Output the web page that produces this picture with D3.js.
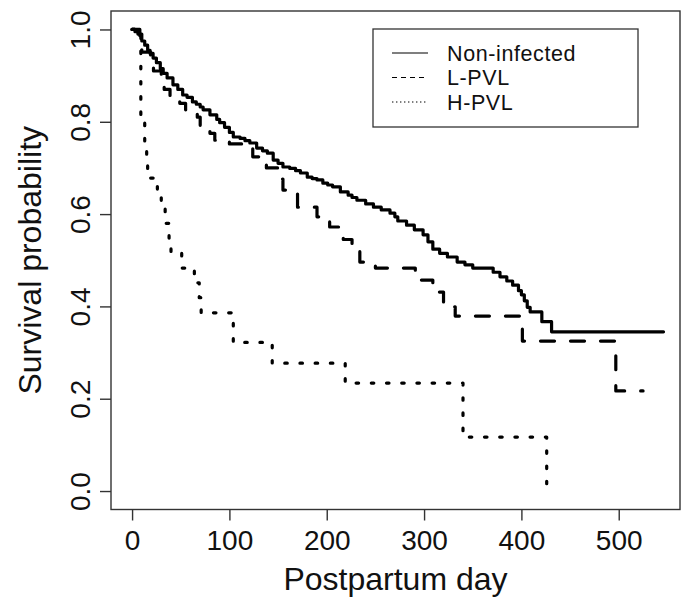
<!DOCTYPE html>
<html><head><meta charset="utf-8">
<script src="https://cdn.jsdelivr.net/npm/d3@7"></script>
<style>body{margin:0;background:#fff;} svg{display:block;font-family:Arial,"Liberation Sans",sans-serif;}</style>
</head><body><svg id="c" width="686" height="601"></svg>
<script>
// Kaplan-Meier step data (day of step, survival after step)
const nonInfectedDays = [0,3,6,10,13,16,18.5,21.6,25,29,32,36,42,47,52,56.5,62,66,70,73,80,87,90,95,100,104,111,116,121,128,134,139,145,150,155,162,168,173,180,185,190,196,201,206,214,222,226,231,240,248,256,265,270,273,282,290,299,304,309,316,324,334,342,350,371,378,385,391,397,400,403,406,409,421,431,546];
const nonInfectedSurv = [1.0,0.995,0.99,0.975,0.966,0.955,0.948,0.938,0.928,0.915,0.905,0.895,0.880,0.870,0.858,0.853,0.843,0.838,0.832,0.826,0.815,0.805,0.798,0.788,0.777,0.767,0.764,0.759,0.754,0.743,0.737,0.732,0.717,0.710,0.702,0.699,0.694,0.689,0.680,0.677,0.674,0.667,0.663,0.659,0.648,0.641,0.636,0.630,0.622,0.615,0.609,0.602,0.594,0.585,0.576,0.566,0.555,0.540,0.524,0.515,0.507,0.496,0.490,0.483,0.474,0.464,0.455,0.446,0.434,0.425,0.412,0.398,0.388,0.367,0.345,0.345];

const lpvlDays = [0,8,10,19,22,30,33,39,49,55,67,70,80,85,100,124,138,152,155,170,190,203,217,226,234,250,291,309,320,332,401,497,525];
const lpvlSurv = [1.0,0.973,0.951,0.93,0.91,0.89,0.87,0.855,0.84,0.826,0.81,0.79,0.775,0.76,0.752,0.724,0.70,0.676,0.652,0.615,0.594,0.572,0.545,0.522,0.496,0.483,0.457,0.431,0.399,0.379,0.325,0.217,0.217];

const hpvlDays = [0,9,13,15,16,26,30,34,38,40,51,64,69,71,104,144,219,340,426];
const hpvlSurv = [1.0,0.806,0.742,0.71,0.678,0.645,0.613,0.58,0.548,0.516,0.483,0.451,0.419,0.386,0.322,0.277,0.234,0.117,0.0];

const xTicks = [0,100,200,300,400,500];
const yTicks = [0,0.2,0.4,0.6,0.8,1.0];
const yTickLabels = ["0.0","0.2","0.4","0.6","0.8","1.0"];
const legendLabels = ["Non-infected","L-PVL","H-PVL"];
const xTitle = "Postpartum day";
const yTitle = "Survival probability";

const svg = d3.select("#c");
const plot = {left:111, right:680, top:11, bottom:509.5};
const x = d3.scaleLinear().domain([-21.65, 562.95]).range([plot.left, plot.right]);
const y = d3.scaleLinear().domain([-0.04, 1.04]).range([plot.bottom, plot.top]);

const axisCol = "#333";
const ff = "Arial, 'Liberation Sans', sans-serif";
// box
svg.append("rect").attr("x",plot.left).attr("y",plot.top)
  .attr("width",plot.right-plot.left).attr("height",plot.bottom-plot.top)
  .attr("fill","none").attr("stroke",axisCol).attr("stroke-width",1.4);

// x axis
const gx = svg.append("g").attr("transform",`translate(0,${plot.bottom})`)
  .call(d3.axisBottom(x).tickValues(xTicks).tickSize(11).tickSizeOuter(0).tickPadding(10).tickFormat(d3.format("d")));
gx.select(".domain").remove();
gx.selectAll(".tick line").attr("stroke",axisCol).attr("stroke-width",1.4);
gx.selectAll(".tick text").attr("font-size",28).attr("fill","#111").attr("font-family",ff);

// y axis
const gy = svg.append("g").attr("transform",`translate(${plot.left},0)`)
  .call(d3.axisLeft(y).tickValues(yTicks).tickSize(11).tickSizeOuter(0).tickFormat((d,i)=>yTickLabels[i]));
gy.select(".domain").remove();
gy.selectAll(".tick line").attr("stroke",axisCol).attr("stroke-width",1.4);
gy.selectAll(".tick text").attr("font-size",28).attr("fill","#111")
  .attr("font-family",ff)
  .attr("text-anchor","middle").attr("transform","rotate(-90)")
  .attr("x",0).attr("y",-21).attr("dy",0);

// titles
svg.append("text").attr("x",(plot.left+plot.right)/2).attr("y",590)
  .attr("text-anchor","middle").attr("font-size",32).attr("fill","#111").text(xTitle);
svg.append("text").attr("transform",`translate(41,${(y(0)+y(1))/2}) rotate(-90)`)
  .attr("text-anchor","middle").attr("font-size",32).attr("fill","#111").text(yTitle);

// curves
const series = [
  {days:nonInfectedDays, surv:nonInfectedSurv, dash:null, legDash:null},
  {days:lpvlDays, surv:lpvlSurv, dash:"14,16", legDash:"5,4"},
  {days:hpvlDays, surv:hpvlSurv, dash:"2.5,12.7", legDash:"1.4,2.6"}
];
const line = d3.line().x(d=>x(d[0])).y(d=>y(d[1])).curve(d3.curveStepAfter);
series.forEach(s=>{
  const pts = s.days.map((d,i)=>[d,s.surv[i]]);
  svg.append("path").attr("d",line(pts)).attr("fill","none").attr("stroke","#000")
    .attr("stroke-width",3.2).attr("stroke-linejoin","round").attr("stroke-linecap","round")
    .attr("stroke-dasharray",s.dash);
});

// legend
const lg = svg.append("g");
lg.append("rect").attr("x",373).attr("y",29).attr("width",265).attr("height",98)
  .attr("fill","#fff").attr("stroke",axisCol).attr("stroke-width",1.3);
const rowY = [53,77.5,102];
series.forEach((s,i)=>{
  lg.append("line").attr("x1",392).attr("x2",428).attr("y1",rowY[i]).attr("y2",rowY[i])
    .attr("stroke","#000").attr("stroke-width",1.2).attr("stroke-dasharray",s.legDash);
  lg.append("text").attr("x",447).attr("y",rowY[i]).attr("dy","0.36em")
    .attr("font-size",21.5).attr("letter-spacing","0.6px").attr("fill","#111").text(legendLabels[i]);
});
</script></body></html>
